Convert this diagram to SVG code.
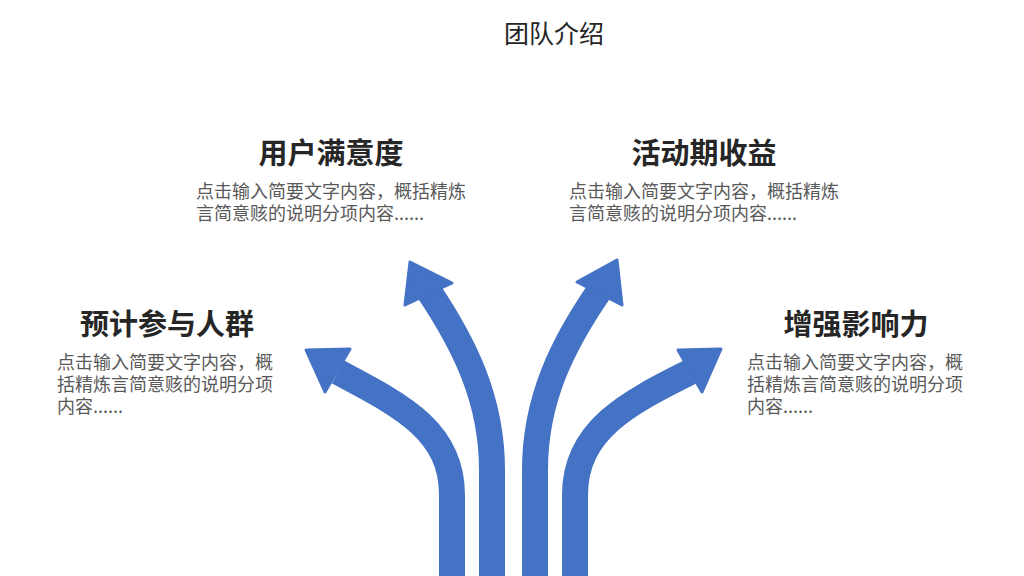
<svg xmlns="http://www.w3.org/2000/svg" width="1024" height="576" viewBox="0 0 1024 576">
<style>
.t{font-family:"Noto Sans CJK SC","Noto Sans",sans-serif}
.h{font-size:29px;font-weight:bold;fill:#262626;text-anchor:middle}
.b{font-size:18px;fill:#595959}
.s{fill:none;stroke:#4472C4;stroke-width:26}
.hd{fill:#4472C4;stroke:#4472C4;stroke-width:3;stroke-linejoin:round}
</style>
<rect width="1024" height="576" fill="#fff"/>
<text class="t" x="554" y="43" font-size="25" fill="#262626" text-anchor="middle">团队介绍</text>
<g id="connectors">
<path class="s" d="M452,576 L452,495 C452,430 400,405 338,372"/>
<polygon class="hd" points="306,350 350,349 325,392"/>
<path class="s" d="M492,576 L492,470 C492,400 465,345 428,290"/>
<polygon class="hd" points="410,262 452,283 405,305"/>
<path class="s" d="M535,576 L535,470 C535,400 562,345 600,290"/>
<polygon class="hd" points="617,260 577,282 622,305"/>
<path class="s" d="M575,576 L575,495 C575,430 628,403 690,372"/>
<polygon class="hd" points="721,349 678,350 702,392"/>
</g>
<g id="n1" class="t"><text class="h" x="167" y="335">预计参与人群</text>
<text class="b" x="57" y="369">点击输入简要文字内容，概</text><text class="b" x="57" y="391">括精炼言简意赅的说明分项</text><text class="b" x="57" y="413">内容......</text></g>
<g id="n2" class="t"><text class="h" x="331" y="164">用户满意度</text>
<text class="b" x="196" y="198">点击输入简要文字内容，概括精炼</text><text class="b" x="196" y="220">言简意赅的说明分项内容......</text></g>
<g id="n3" class="t"><text class="h" x="704" y="164">活动期收益</text>
<text class="b" x="569" y="198">点击输入简要文字内容，概括精炼</text><text class="b" x="569" y="220">言简意赅的说明分项内容......</text></g>
<g id="n4" class="t"><text class="h" x="856" y="335">增强影响力</text>
<text class="b" x="747" y="369">点击输入简要文字内容，概</text><text class="b" x="747" y="391">括精炼言简意赅的说明分项</text><text class="b" x="747" y="413">内容......</text></g>
</svg>
